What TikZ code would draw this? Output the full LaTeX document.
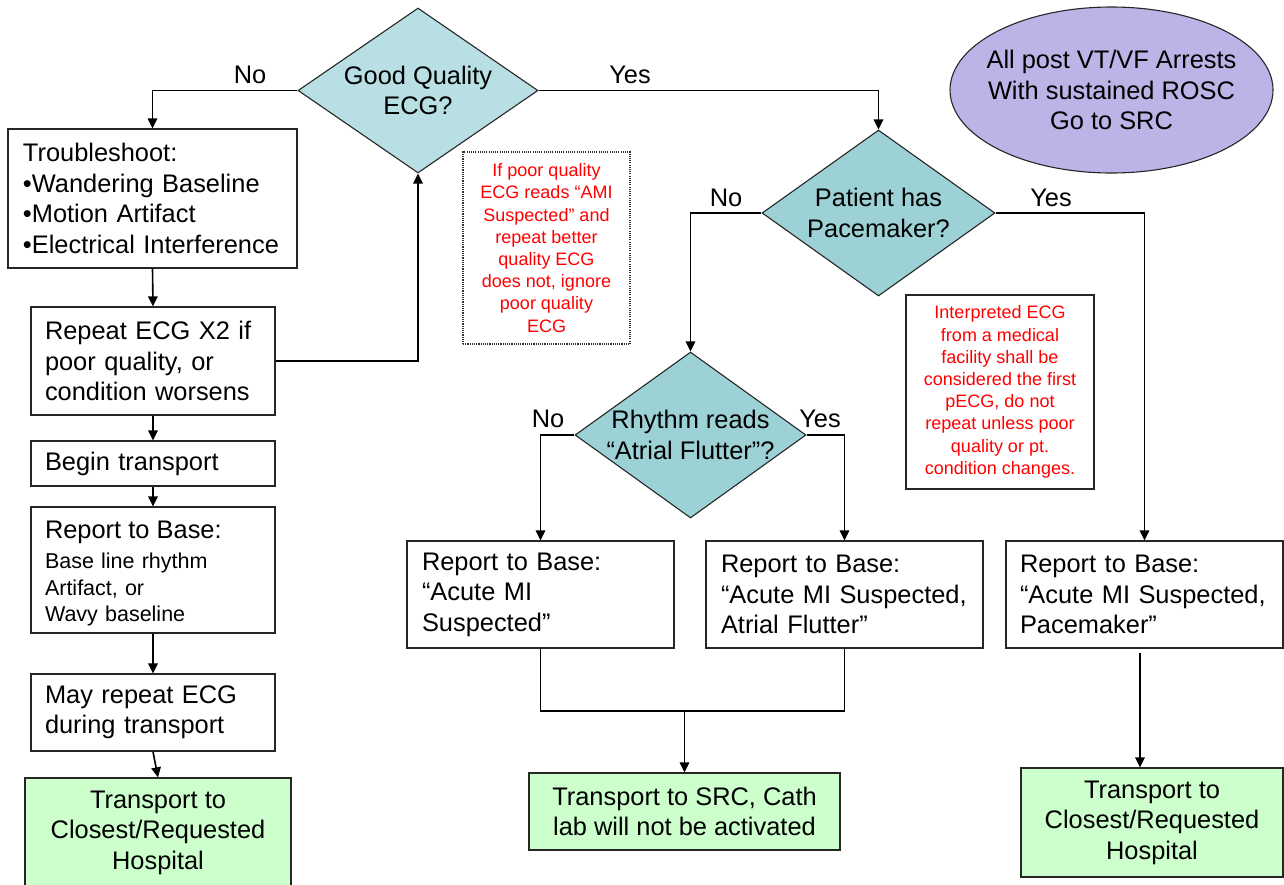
\documentclass[tikz,border=0pt]{standalone}
\usepackage{fontspec}
\setmainfont{Liberation Sans}
\usetikzlibrary{shapes.geometric,arrows.meta}
\definecolor{teallt}{RGB}{183,223,228}
\definecolor{tealdk}{RGB}{156,210,214}
\definecolor{grn}{RGB}{204,255,204}
\definecolor{lav}{RGB}{187,180,230}
\newcommand{\bigf}{\fontsize{25.4}{30.5}\selectfont}
\newcommand{\smallf}{\fontsize{21.5}{26.7}\selectfont}
\newcommand{\redf}{\fontsize{18}{22.2}\selectfont}
\begin{document}
\begin{tikzpicture}[x=1pt,y=-1pt,
 box/.style={draw=black!85, line width=1.3pt, fill=white, inner ysep=0pt, align=left, font=\bigf},
 gbox/.style={draw=black!85, line width=1.3pt, fill=grn, inner sep=0pt, align=center, font=\bigf},
 dia/.style={diamond, draw=black!85, line width=1.1pt, inner sep=0pt},
 lbl/.style={font=\bigf, inner sep=0pt},
 note/.style={draw=black!85, line width=1.1pt, fill=white, inner sep=0pt, align=center, text=red, font=\redf},
 arr/.style={line width=1.6pt, -{Triangle[length=10pt,width=9.5pt]}},
 ln/.style={line width=1.6pt}]
\useasboundingbox (0,0) rectangle (1284,884);

% decisions
\node[dia, fill=teallt, minimum width=240pt, minimum height=165pt] (d1) at (418,90.5) {};
\node[lbl, align=center] (d1t) at (d1.center) {Good Quality\\ECG?};
\node[dia, fill=tealdk, minimum width=233pt, minimum height=166pt] (d2) at (878.5,213) {};
\node[lbl, align=center] (d2t) at (d2.center) {Patient has\\Pacemaker?};
\node[dia, fill=tealdk, minimum width=231pt, minimum height=166pt] (d3) at (690.5,435) {};
\node[lbl, align=center] (d3t) at (d3.center) {Rhythm reads\\“Atrial Flutter”?};

% ellipse
\node[ellipse, draw=black!85, line width=1.1pt, fill=lav, minimum width=323pt, minimum height=166pt, inner sep=0pt] (ell) at (1111.5,90) {};
\node[lbl, align=center] (ellt) at (ell.center) {All post VT/VF Arrests\\With sustained ROSC\\Go to SRC};

% left column
\node[box, inner xsep=15pt, text width=259pt, minimum height=139pt] (trb) at (152.5,198.5)
  {Troubleshoot:\\•Wandering Baseline\\•Motion Artifact\\•Electrical Interference};
\node[box, inner xsep=14pt, text width=216pt, minimum height=108pt] (rep) at (153,361)
  {Repeat ECG X2 if\\poor quality, or\\condition worsens};
\node[box, inner xsep=14pt, text width=216pt, minimum height=45pt] (beg) at (153,463.5)
  {Begin transport};
\node[box, font=\smallf, inner xsep=14pt, text width=216pt, minimum height=126pt] (rpt1) at (153,570)
  {{\bigf\rule{0pt}{25pt}Report to Base:}\\[3pt]Base line rhythm\\Artifact, or\\Wavy baseline};
\node[box, inner xsep=14pt, text width=216pt, minimum height=77pt] (may) at (153,712.5)
  {May repeat ECG\\during transport};
\node[gbox, minimum width=266pt, minimum height=109pt] (grn1) at (158,832.5)
  {Transport to\\Closest/Requested\\Hospital};

% notes
\node[note, draw=black!80, dash pattern=on 1.1pt off 1.1pt, line width=1.2pt, minimum width=167pt, minimum height=192pt] (red1) at (546.5,248)
  {If poor quality\\ECG reads “AMI\\Suspected” and\\repeat better\\quality ECG\\does not, ignore\\poor quality\\ECG};
\node[note, minimum width=188pt, minimum height=194pt] (red2) at (1000,392)
  {Interpreted ECG\\from a medical\\facility shall be\\considered the first\\pECG, do not\\repeat unless poor\\quality or pt.\\condition changes.};

% report boxes
\node[box, inner xsep=15pt, text width=237pt, minimum height=107pt] (rb1) at (540.5,594.5)
  {Report to Base:\\“Acute MI\\Suspected”};
\node[box, inner xsep=15pt, text width=247pt, minimum height=107pt] (rb2) at (844.5,594.5)
  {Report to Base:\\“Acute MI Suspected,\\Atrial Flutter”};
\node[box, inner xsep=14pt, text width=249pt, minimum height=107pt] (rb3) at (1144.5,594.5)
  {Report to Base:\\“Acute MI Suspected,\\Pacemaker”};
\node[gbox, minimum width=311pt, minimum height=77pt] (grn2) at (684.5,811.5)
  {Transport to SRC, Cath\\lab will not be activated};
\node[gbox, minimum width=262pt, minimum height=109pt] (grn3) at (1152,822.5)
  {Transport to\\Closest/Requested\\Hospital};

% labels
\node[lbl] (l1) at (250,75) {No};
\node[lbl] (l2) at (630,75) {Yes};
\node[lbl] (l3) at (726,198) {No};
\node[lbl] (l4) at (1051,198) {Yes};
\node[lbl] (l5) at (548,419) {No};
\node[lbl] (l6) at (820,419) {Yes};

% connectors
\draw[arr] (d1.west) -| (trb.north);
\draw[arr] (d1.east) -| (d2.north);
\draw[arr] (trb.south) -- (rep.north);
\draw[arr] (rep.east) -| (d1.south);
\draw[arr] (rep.south) -- (beg.north);
\draw[arr] (beg.south) -- (rpt1.north);
\draw[arr] (rpt1.south) -- (may.north);
\draw[arr] (may.south) -- (grn1.north);
\draw[arr] (d2.west) -| (d3.north);
\draw[arr] (d2.east) -| (rb3.north);
\draw[arr] (d3.west) -| (rb1.north);
\draw[arr] (d3.east) -| (rb2.north);
\coordinate (mid) at (684.5,711);
\draw[ln] (rb1.south) |- (mid) -| (rb2.south);
\draw[arr] (mid) -- (grn2.north);
\coordinate (r3a) at ([xshift=-4.5pt,yshift=-4pt]rb3.south);
\draw[arr] (r3a) -- (r3a |- grn3.north);
\end{tikzpicture}
\end{document}
